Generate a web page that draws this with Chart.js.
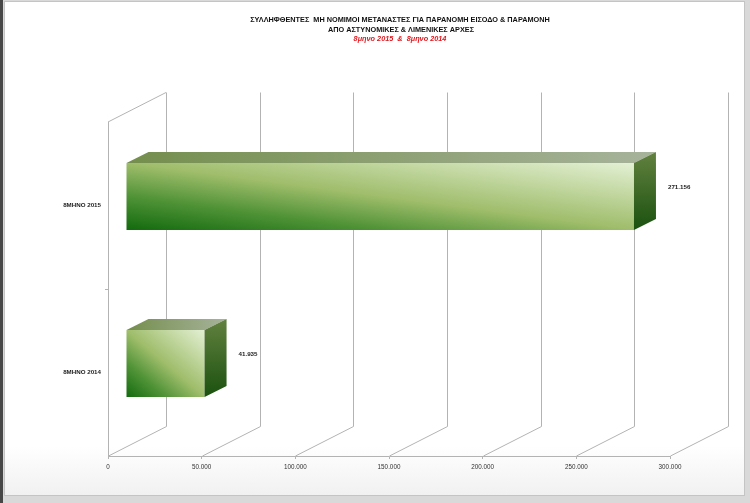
<!DOCTYPE html>
<html>
<head>
<meta charset="utf-8">
<script src="https://cdn.jsdelivr.net/npm/chart.js@4.4.1/dist/chart.umd.min.js"></script>
<style>
html, body { margin: 0; padding: 0; }
body { width: 750px; height: 503px; background: #d9d9d9; position: relative; overflow: hidden; }
#strip { position: absolute; left: 0; top: 0; width: 3px; height: 503px; background: #474747; }
#frame { position: absolute; left: 4px; top: 1px; width: 739px; height: 493px;
         background: linear-gradient(#ffffff 0%, #ffffff 90%, #f1f1f1 100%); border: 1px solid #c4c4c4; }
canvas { position: absolute; left: 0; top: 0; }
</style>
</head>
<body>
<div id="strip"></div>
<div id="frame"></div>
<canvas id="chart" width="750" height="503"></canvas>
<script>
// values
const categories = ['8ΜΗΝΟ 2015', '8ΜΗΝΟ 2014'];
const arrested = [271156, 41935];
const xTicks = [0, 50000, 100000, 150000, 200000, 250000, 300000];
const titleLines = [
    'ΣΥΛΛΗΦΘΕΝΤΕΣ  ΜΗ ΝΟΜΙΜΟΙ ΜΕΤΑΝΑΣΤΕΣ ΓΙΑ ΠΑΡΑΝΟΜΗ ΕΙΣΟΔΟ & ΠΑΡΑΜΟΝΗ',
    'ΑΠΟ ΑΣΤΥΝΟΜΙΚΕΣ & ΛΙΜΕΝΙΚΕΣ ΑΡΧΕΣ'
];
const subtitle = '8μηνο 2015  &  8μηνο 2014';

const FONT = '"Liberation Sans", Arial, sans-serif';
const DEPTH = { dx: 58, dy: -29.5 };   // whole 3d box depth
const FRONT = { dx: 18, dy: -9 };      // where the bars start inside the box
const BAR = { dx: 22, dy: -11 };       // depth of a bar
const GRID = '#b3b3b3';

// 271156 -> 271.156
function fmt(v) {
    return String(v).replace(/\B(?=(\d{3})+(?!\d))/g, '.');
}

// corner to corner gradient, dark bottom-left to light top-right
function frontFill(context) {
    const chart = context.chart;
    const xs = chart.scales.x, ys = chart.scales.y;
    if (!xs || !ys || !chart.chartArea) return '#8fb35e';
    const h = ys.height / categories.length * 0.4;
    const x0 = xs.getPixelForValue(0);
    const x1 = xs.getPixelForValue(context.raw);
    const bottom = ys.getPixelForValue(context.dataIndex) + h / 2;
    const W = Math.max(x1 - x0, 1);
    const k = 2 / (1 / (W * W) + 1 / (h * h));
    const g = chart.ctx.createLinearGradient(x0, bottom, x0 + k / W, bottom - k / h);
    g.addColorStop(0, '#136a0e');
    g.addColorStop(0.25, '#4f9236');
    g.addColorStop(0.5, '#9fbd6b');
    g.addColorStop(1, '#e3f0d4');
    return g;
}

const walls3d = {
    id: 'walls3d',
    beforeDatasetsDraw(chart) {
        const ctx = chart.ctx;
        const xs = chart.scales.x;
        const { top, bottom, left } = chart.chartArea;
        ctx.save();
        ctx.strokeStyle = GRID;
        ctx.lineWidth = 1;
        ctx.beginPath();
        // top edge of the left wall
        ctx.moveTo(left, top);
        ctx.lineTo(left + DEPTH.dx, top + DEPTH.dy);
        xTicks.forEach(v => {
            const px = Math.round(xs.getPixelForValue(v)) + 0.5;
            // floor line and back wall line
            ctx.moveTo(px, bottom);
            ctx.lineTo(px + DEPTH.dx, bottom + DEPTH.dy);
            ctx.lineTo(px + DEPTH.dx, top + DEPTH.dy);
        });
        ctx.stroke();
        ctx.restore();
        // bars sit inside the box
        ctx.save();
        ctx.translate(FRONT.dx, FRONT.dy);
    },
    afterDatasetsDraw(chart) {
        const ctx = chart.ctx;
        const meta = chart.getDatasetMeta(0);
        meta.data.forEach(bar => {
            const { x, y, base, height } = bar.getProps(['x', 'y', 'base', 'height'], true);
            const t = y - height / 2, b = y + height / 2;
            // top face
            let g = ctx.createLinearGradient(base, 0, x + BAR.dx, 0);
            g.addColorStop(0, '#748e4d');
            g.addColorStop(1, '#a7b39b');
            ctx.fillStyle = g;
            ctx.beginPath();
            ctx.moveTo(base, t);
            ctx.lineTo(base + BAR.dx, t + BAR.dy);
            ctx.lineTo(x + BAR.dx, t + BAR.dy);
            ctx.lineTo(x, t);
            ctx.closePath();
            ctx.fill();
            // right face
            g = ctx.createLinearGradient(0, t + BAR.dy, 0, b);
            g.addColorStop(0, '#62813f');
            g.addColorStop(1, '#1b510f');
            ctx.fillStyle = g;
            ctx.beginPath();
            ctx.moveTo(x, t);
            ctx.lineTo(x + BAR.dx, t + BAR.dy);
            ctx.lineTo(x + BAR.dx, b + BAR.dy);
            ctx.lineTo(x, b);
            ctx.closePath();
            ctx.fill();
        });
        ctx.restore();

        // value labels
        ctx.save();
        ctx.fillStyle = '#222';
        ctx.font = 'bold 6.2px ' + FONT;
        ctx.textAlign = 'left';
        ctx.textBaseline = 'middle';
        meta.data.forEach((bar, i) => {
            ctx.fillText(fmt(arrested[i]), bar.x + 52, bar.y - 18);
        });
        ctx.restore();
    },
    afterDraw(chart) {
        const ctx = chart.ctx;
        ctx.save();
        ctx.textAlign = 'center';
        ctx.textBaseline = 'middle';
        ctx.fillStyle = '#111';
        ctx.font = 'bold 7.3px ' + FONT;
        ctx.fillText(titleLines[0], 400, 20);
        ctx.fillText(titleLines[1], 401, 29.5);
        ctx.fillStyle = '#e0141a';
        ctx.font = 'italic bold 7.3px ' + FONT;
        ctx.fillText(subtitle, 400, 39);
        ctx.restore();
    }
};

new Chart(document.getElementById('chart'), {
    type: 'bar',
    data: {
        labels: categories,
        datasets: [{
            data: arrested,
            backgroundColor: frontFill,
            borderWidth: 0,
            categoryPercentage: 1,
            barPercentage: 0.4
        }]
    },
    options: {
        indexAxis: 'y',
        responsive: false,
        animation: false,
        events: [],
        layout: { padding: { top: 122, right: 80, left: 0, bottom: 0 } },
        plugins: {
            legend: { display: false },
            tooltip: { enabled: false }
        },
        scales: {
            x: {
                min: 0,
                max: 300000,
                afterBuildTicks: s => { s.ticks = xTicks.map(v => ({ value: v })); },
                afterFit: s => { s.height = 47; },
                grid: { drawOnChartArea: false, tickLength: 3, color: GRID },
                border: { color: GRID },
                ticks: {
                    padding: 4,
                    color: '#333',
                    maxRotation: 0,
                    font: { family: FONT, size: 6.3 },
                    callback: v => fmt(v)
                }
            },
            y: {
                afterFit: s => { s.width = 108; },
                grid: {
                    drawOnChartArea: false,
                    tickLength: 3,
                    offset: true,
                    // only the divider between the two categories
                    color: c => (c.index > 0 && c.index < categories.length) ? GRID : 'rgba(0,0,0,0)'
                },
                border: { color: GRID },
                ticks: {
                    padding: 4,
                    color: '#222',
                    font: { family: FONT, size: 6.2, weight: 'bold' }
                }
            }
        }
    },
    plugins: [walls3d]
});
</script>
</body>
</html>
